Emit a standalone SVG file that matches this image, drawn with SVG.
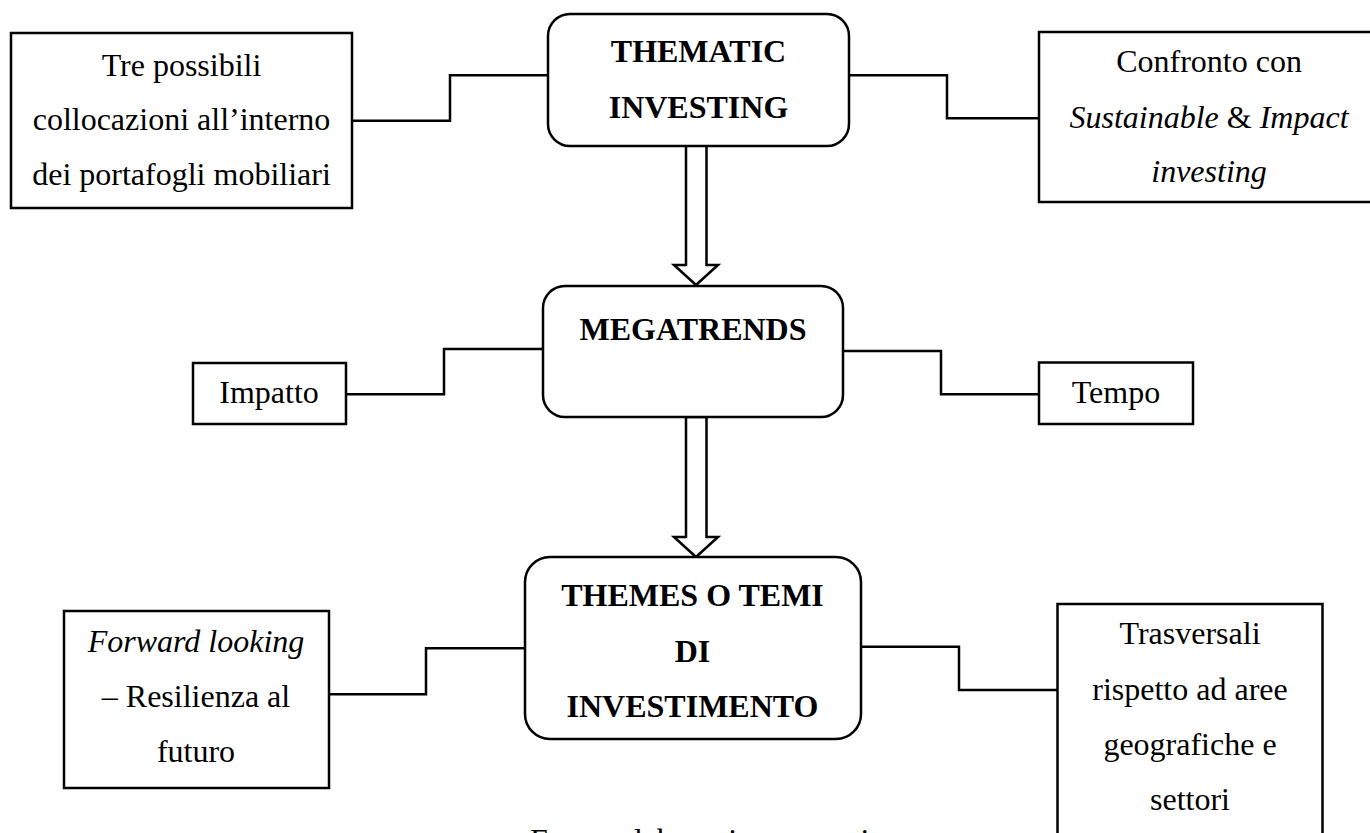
<svg xmlns="http://www.w3.org/2000/svg" width="1370" height="833" viewBox="0 0 1370 833">
<style>
.box{fill:#fff;stroke:#000;stroke-width:2.5}
.rbox{fill:#fff;stroke:#000;stroke-width:2.5}
.con{fill:none;stroke:#000;stroke-width:2.5}
.arr{fill:#fff;stroke:#000;stroke-width:2.5;stroke-linejoin:miter}
text{font-family:"Liberation Serif","Times New Roman",serif;font-size:32px;fill:#000;text-anchor:middle}
.b{font-weight:bold}
.i{font-style:italic}
</style>
<rect width="1370" height="833" fill="#fff"/>
<g id="connectors">
<path class="con" d="M352,120.7 H450 V75.3 H548"/>
<path class="con" d="M849,75.3 H947 V118.3 H1039"/>
<path class="con" d="M346,394.3 H444 V349 H543"/>
<path class="con" d="M843,351 H941 V394.3 H1039"/>
<path class="con" d="M329,694.3 H426 V648.3 H525"/>
<path class="con" d="M861,646.7 H959 V690 H1057.5"/>
<polygon class="arr" points="686,145 686,265 674,265 696,285 718,265 706.5,265 706.5,145"/>
<polygon class="arr" points="686,417 686,537 674,537 696,557 718,537 706.5,537 706.5,417"/>
</g>
<g id="thematic">
<rect class="rbox" x="548" y="14" width="301" height="132" rx="22"/>
<text class="b" x="698.5" y="62">THEMATIC</text>
<text class="b" x="698.5" y="118">INVESTING</text>
</g>
<g id="collocazioni">
<rect class="box" x="11" y="33" width="341" height="175"/>
<text x="181.5" y="76">Tre possibili</text>
<text x="181.5" y="130">collocazioni all’interno</text>
<text x="181.5" y="185">dei portafogli mobiliari</text>
</g>
<g id="confronto">
<rect class="box" x="1039" y="32" width="345" height="170"/>
<text x="1209" y="72">Confronto con</text>
<text x="1209" y="128"><tspan class="i">Sustainable</tspan> &amp; <tspan class="i">Impact</tspan></text>
<text class="i" x="1209" y="182">investing</text>
</g>
<g id="megatrends">
<rect class="rbox" x="543" y="286" width="300" height="131" rx="22"/>
<text class="b" x="693" y="340">MEGATRENDS</text>
</g>
<g id="impatto">
<rect class="box" x="193" y="363" width="153" height="61"/>
<text x="269" y="403">Impatto</text>
</g>
<g id="tempo">
<rect class="box" x="1039" y="362.5" width="154" height="61.5"/>
<text x="1116" y="403">Tempo</text>
</g>
<g id="themes">
<rect class="rbox" x="525" y="557" width="336" height="182" rx="25"/>
<text class="b" x="692.5" y="606">THEMES O TEMI</text>
<text class="b" x="692.5" y="662">DI</text>
<text class="b" x="692.5" y="717">INVESTIMENTO</text>
</g>
<g id="forward">
<rect class="box" x="64" y="611" width="265" height="177"/>
<text class="i" x="196" y="652">Forward looking</text>
<text x="196" y="707">– Resilienza al</text>
<text x="196" y="762">futuro</text>
</g>
<g id="trasversali">
<rect class="box" x="1057.5" y="604" width="265" height="240"/>
<text x="1190" y="644">Trasversali</text>
<text x="1190" y="700">rispetto ad aree</text>
<text x="1190" y="755">geografiche e</text>
<text x="1190" y="810">settori</text>
</g>
<g id="caption">
<text x="530" y="851" style="text-anchor:start">Fonte: elaborazione propria</text>
</g>
</svg>
